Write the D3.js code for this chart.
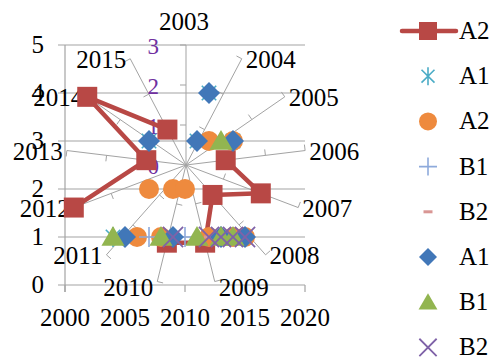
<!DOCTYPE html>
<html>
<head>
<meta charset="utf-8">
<style>
    body {
        margin: 0;
        background: #fff;
    }
    svg text {
        font-family: "Liberation Serif", "Times New Roman", serif;
        fill: #000;
    }
</style>
</head>
<body>
<div id="chart"></div>
<script src="https://d3js.org/d3.v7.min.js"></script>
<script>
    // radar series (categories round the wheel)
    var radarCats = ["2003", "2004", "2005", "2006", "2007", "2008", "2009", "2010", "2011", "2012", "2013", "2014", "2015"];
    var radarA2 = [null, null, null, 1, 2, 1, 2, 2, null, 3, 1, 3, 1];
    var radarTicks = [0, 1, 2, 3];

    // scatter series
    var a1StarX = [2004, 2007, 2011, 2012, 2014];
    var a1StarY = [1, 3, 3, 4, 3];
    var a2DotX = [2006, 2008, 2012, 2014, 2015, 2007, 2009, 2010, 2012, 2014];
    var a2DotY = [1, 1, 1, 1, 1, 2, 2, 2, 3, 3];
    var b1PlusX = [2007, 2010];
    var b1PlusY = [1, 1];
    var b2DashX = [2012];
    var b2DashY = [1];
    var a1DiamondX = [2005, 2009, 2013, 2015, 2007, 2011, 2014, 2012];
    var a1DiamondY = [1, 1, 1, 1, 3, 3, 3, 4];
    var b1TriX = [2004, 2008, 2011, 2013, 2014, 2013];
    var b1TriY = [1, 1, 1, 1, 1, 3];
    var b2CrossX = [2009, 2012, 2013, 2014, 2015];
    var b2CrossY = [1, 1, 1, 1, 1];

    var xTicks = [2000, 2005, 2010, 2015, 2020];
    var yTicks = [0, 1, 2, 3, 4, 5];
    var legendNames = ["A2", "A1", "A2", "B1", "B2", "A1", "B1", "B2"];

    var gridColor = "#a3a3a3";
    var red = "#b84845";

    var svg = d3.select("#chart").append("svg")
        .attr("width", 496)
        .attr("height", 360);

    var x = d3.scaleLinear().domain([2000, 2020]).range([65, 305]);
    var y = d3.scaleLinear().domain([0, 5]).range([285, 45]);

    // marker shapes
    function shape(kind, s) {
        if (kind == "square") return "M" + -s + "," + -s + "H" + s + "V" + s + "H" + -s + "Z";
        if (kind == "circle") return "M" + -s + ",0A" + s + "," + s + " 0 1,0 " + s + ",0A" + s + "," + s + " 0 1,0 " + -s + ",0Z";
        if (kind == "diamond") return "M0," + -s + "L" + s + ",0L0," + s + "L" + -s + ",0Z";
        if (kind == "triangle") return "M0," + (-s) + "L" + (s * 1.05) + "," + (s * 0.8) + "L" + (-s * 1.05) + "," + (s * 0.8) + "Z";
        var k = s * 0.72;
        if (kind == "star") return "M0," + -s + "V" + s + "M" + -k + "," + -k + "L" + k + "," + k + "M" + -k + "," + k + "L" + k + "," + -k;
        if (kind == "plus") return "M" + -s + ",0H" + s + "M0," + -s + "V" + s;
        if (kind == "cross") return "M" + -k + "," + -k + "L" + k + "," + k + "M" + -k + "," + k + "L" + k + "," + -k;
        if (kind == "dash") return "M" + (-s * 0.5) + ",0H" + (s * 0.5);
    }

    var scatter = [
        { xs: a1StarX, ys: a1StarY, kind: "star", color: "#4bacc6", fill: false, size: 10, sw: 1.6 },
        { xs: a2DotX, ys: a2DotY, kind: "circle", color: "#ee8a3e", fill: true, size: 10 },
        { xs: b1PlusX, ys: b1PlusY, kind: "plus", color: "#8eaadb", fill: false, size: 10, sw: 1.6 },
        { xs: b2DashX, ys: b2DashY, kind: "dash", color: "#d99694", fill: false, size: 10, sw: 3 },
        { xs: a1DiamondX, ys: a1DiamondY, kind: "diamond", color: "#4177b8", fill: true, size: 11 },
        { xs: b1TriX, ys: b1TriY, kind: "triangle", color: "#92b550", fill: true, size: 11 },
        { xs: b2CrossX, ys: b2CrossY, kind: "cross", color: "#7f62a8", fill: false, size: 14, sw: 1.8 }
    ];

    // gridlines + axes
    svg.append("g").selectAll("line")
        .data(yTicks)
        .enter().append("line")
        .attr("x1", x(2000) - 7)
        .attr("x2", x(2020))
        .attr("y1", function (d) { return y(d); })
        .attr("y2", function (d) { return y(d); })
        .attr("stroke", gridColor)
        .attr("stroke-width", 1.2);

    svg.append("line")
        .attr("x1", x(2000)).attr("x2", x(2000))
        .attr("y1", y(5)).attr("y2", y(0) + 7)
        .attr("stroke", gridColor)
        .attr("stroke-width", 1.2);

    svg.append("g").selectAll("line")
        .data(xTicks)
        .enter().append("line")
        .attr("x1", function (d) { return x(d); })
        .attr("x2", function (d) { return x(d); })
        .attr("y1", y(0))
        .attr("y2", y(0) + 7)
        .attr("stroke", gridColor)
        .attr("stroke-width", 1.2);

    svg.append("g").selectAll("text")
        .data(yTicks)
        .enter().append("text")
        .attr("x", 44)
        .attr("y", function (d) { return y(d) + 8; })
        .attr("text-anchor", "end")
        .attr("font-size", 25)
        .text(function (d) { return d; });

    svg.append("g").selectAll("text")
        .data(xTicks)
        .enter().append("text")
        .attr("x", function (d) { return x(d); })
        .attr("y", 326)
        .attr("text-anchor", "middle")
        .attr("font-size", 25)
        .text(function (d) { return d; });

    // radar part, centred on the plot area
    var cx = x(2010) + 1,
        cy = y(2.5);
    var r = d3.scaleLinear().domain([0, 3]).range([0, 120]);
    var n = radarCats.length;

    function ang(i) {
        return i * 2 * Math.PI / n;
    }
    function px(i, v) {
        return cx + r(v) * Math.sin(ang(i));
    }
    function py(i, v) {
        return cy - r(v) * Math.cos(ang(i));
    }

    var spokes = svg.append("g");
    radarCats.forEach(function (c, i) {
        spokes.append("line")
            .attr("x1", cx).attr("y1", cy)
            .attr("x2", px(i, 3)).attr("y2", py(i, 3))
            .attr("stroke", gridColor)
            .attr("stroke-width", 1);
        radarTicks.slice(1).forEach(function (t) {
            var a = ang(i);
            spokes.append("line")
                .attr("x1", px(i, t)).attr("y1", py(i, t))
                .attr("x2", px(i, t) - 6 * Math.cos(a))
                .attr("y2", py(i, t) - 6 * Math.sin(a))
                .attr("stroke", gridColor)
                .attr("stroke-width", 1);
        });
    });

    // category labels outside the spokes
    svg.append("g").selectAll("text")
        .data(radarCats)
        .enter().append("text")
        .attr("font-size", 25)
        .attr("x", function (d, i) {
            var s = Math.sin(ang(i));
            return px(i, 3) + (s > 0.1 ? 4 : s < -0.1 ? -4 : -2);
        })
        .attr("y", function (d, i) {
            var c = Math.cos(ang(i));
            return py(i, 3) + (c > 0.95 ? -15 : c < -0.9 ? 14 : 9);
        })
        .attr("text-anchor", function (d, i) {
            var s = Math.sin(ang(i));
            return s > 0.1 ? "start" : s < -0.1 ? "end" : "middle";
        })
        .text(function (d) { return d; });

    // radar value labels
    svg.append("g").selectAll("text")
        .data(radarTicks)
        .enter().append("text")
        .attr("x", cx - 27)
        .attr("y", function (d) { return cy - r(d) + 9; })
        .attr("text-anchor", "end")
        .attr("font-size", 23)
        .style("fill", "#7030a0")
        .text(function (d) { return d; });

    var radarLine = d3.line()
        .defined(function (d) { return d != null; })
        .x(function (d, i) { return px(i, d); })
        .y(function (d, i) { return py(i, d); });

    svg.append("path")
        .attr("d", radarLine(radarA2))
        .attr("fill", "none")
        .attr("stroke", red)
        .attr("stroke-width", 4.5)
        .attr("stroke-linejoin", "round");

    svg.append("g").selectAll("path")
        .data(radarA2.map(function (v, i) { return { v: v, i: i }; }).filter(function (d) { return d.v != null; }))
        .enter().append("path")
        .attr("transform", function (d) { return "translate(" + px(d.i, d.v) + "," + py(d.i, d.v) + ")"; })
        .attr("d", shape("square", 10))
        .attr("fill", red);

    // scatter markers
    scatter.forEach(function (s) {
        svg.append("g").selectAll("path")
            .data(s.xs.map(function (v, i) { return [v, s.ys[i]]; }))
            .enter().append("path")
            .attr("transform", function (d) { return "translate(" + x(d[0]) + "," + y(d[1]) + ")"; })
            .attr("d", shape(s.kind, s.size))
            .attr("fill", s.fill ? s.color : "none")
            .attr("stroke", s.fill ? "none" : s.color)
            .attr("stroke-width", s.sw || 0);
    });

    // legend
    var legend = svg.append("g");
    var legendKinds = [null].concat(scatter);
    legendNames.forEach(function (name, i) {
        var ly = 31 + 45.2 * i;
        if (i == 0) {
            legend.append("line")
                .attr("x1", 402).attr("x2", 456)
                .attr("y1", ly).attr("y2", ly)
                .attr("stroke", red)
                .attr("stroke-width", 4.5)
                .attr("stroke-linecap", "round");
            legend.append("path")
                .attr("transform", "translate(428," + ly + ")")
                .attr("d", shape("square", 9))
                .attr("fill", red);
        } else {
            var s = legendKinds[i];
            legend.append("path")
                .attr("transform", "translate(428," + ly + ")")
                .attr("d", shape(s.kind, s.kind == "cross" ? 12 : 9))
                .attr("fill", s.fill ? s.color : "none")
                .attr("stroke", s.fill ? "none" : s.color)
                .attr("stroke-width", s.sw || 0);
        }
        legend.append("text")
            .attr("x", 459)
            .attr("y", ly + 8)
            .attr("font-size", 25)
            .text(name);
    });
</script>
</body>
</html>
